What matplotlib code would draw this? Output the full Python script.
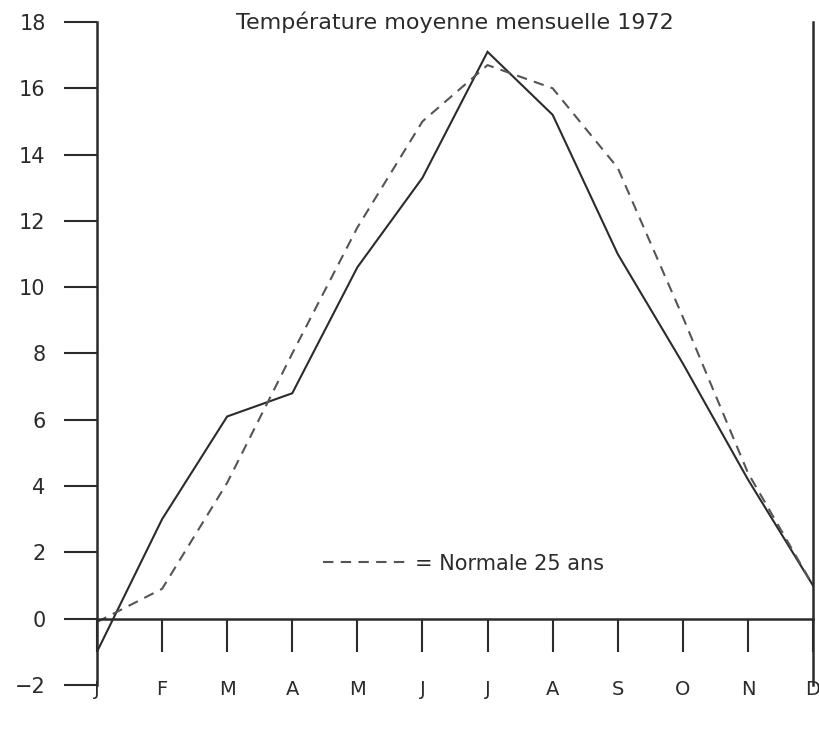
import matplotlib

matplotlib.use("Agg")
import matplotlib.pyplot as plt

months = ["J", "F", "M", "A", "M", "J", "J", "A", "S", "O", "N", "D"]
temp_1972 = [-1.0, 3.0, 6.1, 6.8, 10.6, 13.3, 17.1, 15.2, 11.0, 7.7, 4.2, 1.0]
normale_25 = [-0.1, 0.9, 4.1, 8.0, 11.8, 15.0, 16.7, 16.0, 13.6, 9.1, 4.4, 1.0]
y_ticks = [-2, 0, 2, 4, 6, 8, 10, 12, 14, 16, 18]

INK = "#2b2b2b"

plt.rcParams.update({"font.family": "DejaVu Sans", "font.size": 14})

fig = plt.figure(figsize=(8.19, 7.33), dpi=100)
ax = fig.add_axes([0.1184, 0.0655, 0.8743, 0.9045])

x = list(range(len(months)))
ax.plot(x, temp_1972, color=INK, lw=1.5, solid_joinstyle="miter")
ax.plot(x, normale_25, color="#555555", lw=1.5, ls=(0, (5, 3.5)),
        label="= Normale 25 ans")

ax.set_xlim(0, len(months) - 1)
ax.set_ylim(-2, 18)

# axes drawn like the original sketch
ax.spines["top"].set_visible(False)
ax.spines["bottom"].set_position(("data", 0))
for side in ["left", "right", "bottom"]:
    ax.spines[side].set_color(INK)
    ax.spines[side].set_linewidth(1.8)

ax.set_xticks(x)
ax.set_xticklabels(months)
ax.set_yticks(y_ticks)
ax.set_yticklabels([str(v).replace("-", "\u2212") for v in y_ticks])
ax.tick_params(axis="x", direction="out", length=24, width=1.5, pad=20,
               colors=INK, labelsize=14)
ax.tick_params(axis="y", direction="out", length=24, width=1.5, pad=13,
               colors=INK, labelsize=15)
ax.tick_params(axis="y", which="both", right=False)

ax.text(0.5, 1.0, "Température moyenne mensuelle 1972", transform=ax.transAxes,
        ha="center", va="center", fontsize=16, color=INK)

ax.legend(loc="center left", bbox_to_anchor=(0.29, 0.183), frameon=False,
          handlelength=4.0, handletextpad=0.4, fontsize=15, labelcolor=INK)

plt.savefig("out.png", dpi=100, facecolor="white")
plt.close(fig)
